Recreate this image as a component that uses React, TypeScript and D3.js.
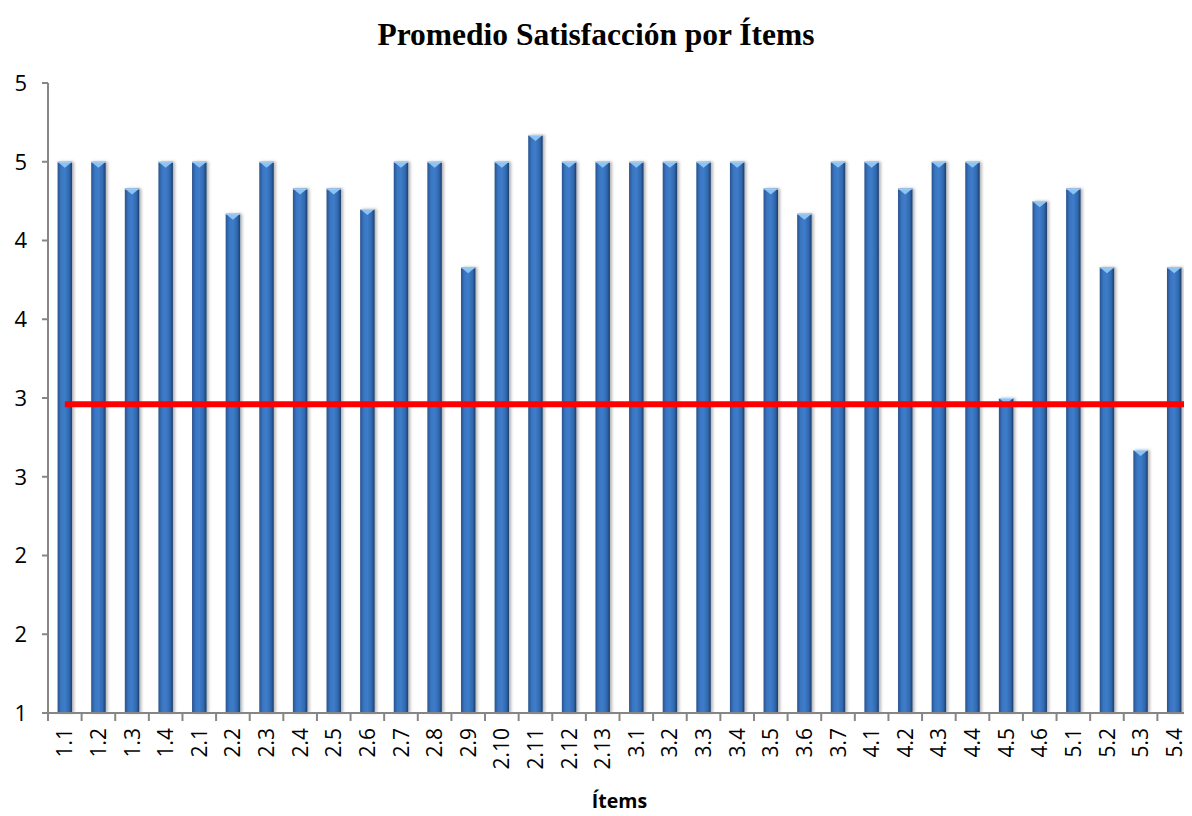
import React, { useEffect, useRef } from 'react';
import * as d3 from 'd3';

const items = [
  '1.1', '1.2', '1.3', '1.4',
  '2.1', '2.2', '2.3', '2.4', '2.5', '2.6', '2.7', '2.8', '2.9', '2.10', '2.11', '2.12', '2.13',
  '3.1', '3.2', '3.3', '3.4', '3.5', '3.6', '3.7',
  '4.1', '4.2', '4.3', '4.4', '4.5', '4.6',
  '5.1', '5.2', '5.3', '5.4',
];
const promedio = [
  4.5, 4.5, 4.33, 4.5,
  4.5, 4.17, 4.5, 4.33, 4.33, 4.2, 4.5, 4.5, 3.83, 4.5, 4.67, 4.5, 4.5,
  4.5, 4.5, 4.5, 4.5, 4.33, 4.17, 4.5,
  4.5, 4.33, 4.5, 4.5, 3.0, 4.25,
  4.33, 3.83, 2.67, 3.83,
];
const referencia = 2.96;
const yTicks = [1, 1.5, 2, 2.5, 3, 3.5, 4, 4.5, 5];

const W = 1192;
const H = 816;

export default function App() {
  const ref = useRef<SVGSVGElement | null>(null);

  useEffect(() => {
    if (!ref.current) return;
    const svg = d3.select(ref.current);
    svg.selectAll('*').remove();

    const margin = { top: 83, right: 1, bottom: 103, left: 48 };
    const left = margin.left;
    const right = W - margin.right;
    const top = margin.top;
    const bottom = H - margin.bottom;

    const x = d3.scaleBand<string>()
      .domain(items)
      .range([left, right])
      .paddingInner(0.57)
      .paddingOuter(0.285);
    const y = d3.scaleLinear().domain([1, 5]).range([bottom, top]);
    const bw = x.bandwidth();
    const step = x.step();

    const defs = svg.append('defs');
    const grad = defs.append('linearGradient')
      .attr('id', 'barGrad')
      .attr('x1', '0').attr('x2', '1').attr('y1', '0').attr('y2', '0');
    grad.append('stop').attr('offset', '0%').attr('stop-color', '#28538f');
    grad.append('stop').attr('offset', '25%').attr('stop-color', '#3a76c2');
    grad.append('stop').attr('offset', '50%').attr('stop-color', '#3e7cc9');
    grad.append('stop').attr('offset', '80%').attr('stop-color', '#3168ae');
    grad.append('stop').attr('offset', '100%').attr('stop-color', '#1c3d6c');

    const shadow = defs.append('filter').attr('id', 'barShadow')
      .attr('x', '-50%').attr('y', '-5%').attr('width', '200%').attr('height', '110%');
    shadow.append('feDropShadow')
      .attr('dx', 2).attr('dy', 0).attr('stdDeviation', 1.6)
      .attr('flood-color', '#000').attr('flood-opacity', 0.3);

    // title
    svg.append('text')
      .attr('x', W / 2)
      .attr('y', 45)
      .attr('text-anchor', 'middle')
      .style('font-family', '"Liberation Serif", "Times New Roman", serif')
      .style('font-weight', 'bold')
      .style('font-size', '31.5px')
      .text('Promedio Satisfacción por Ítems');

    // bars
    const data = items.map((d, i) => ({ item: d, value: promedio[i] }));
    const bars = svg.append('g').selectAll('g').data(data).join('g');

    bars.append('rect')
      .attr('x', d => x(d.item)!)
      .attr('y', d => y(d.value))
      .attr('width', bw)
      .attr('height', d => bottom - y(d.value))
      .attr('fill', 'url(#barGrad)')
      .attr('filter', 'url(#barShadow)');

    // lighter bevel on top of each bar
    bars.append('path')
      .attr('d', d => {
        const x0 = x(d.item)!;
        const t = y(d.value);
        return `M${x0 + 0.5},${t + 0.5}L${x0 + bw - 0.5},${t + 0.5}L${x0 + bw / 2},${t + 6}Z`;
      })
      .attr('fill', '#8cc3f3');
    bars.append('line')
      .attr('x1', d => x(d.item)!)
      .attr('x2', d => x(d.item)! + bw)
      .attr('y1', d => y(d.value) + 0.5)
      .attr('y2', d => y(d.value) + 0.5)
      .attr('stroke', '#a9d2f7')
      .attr('stroke-width', 1);

    // axes
    const axisColor = '#868686';
    const labelFont = '"Open Sans", "Noto Sans", sans-serif';

    const yAxis = svg.append('g');
    yAxis.append('line')
      .attr('x1', left).attr('x2', left)
      .attr('y1', top).attr('y2', bottom)
      .attr('stroke', axisColor).attr('stroke-width', 2);
    yAxis.selectAll('line.tick').data(yTicks).join('line')
      .attr('class', 'tick')
      .attr('x1', left - 6).attr('x2', left)
      .attr('y1', d => y(d)).attr('y2', d => y(d))
      .attr('stroke', axisColor).attr('stroke-width', 2);
    yAxis.selectAll('text').data(yTicks).join('text')
      .attr('x', left - 21)
      .attr('y', d => y(d))
      .attr('dy', '0.36em')
      .attr('text-anchor', 'end')
      .style('font-family', labelFont)
      .style('font-size', '22px')
      .attr('fill', '#000')
      .text(d => d3.format('.0f')(d));

    const xAxis = svg.append('g');
    xAxis.append('line')
      .attr('x1', left).attr('x2', right)
      .attr('y1', bottom).attr('y2', bottom)
      .attr('stroke', axisColor).attr('stroke-width', 2);
    const boundaries = items.map(d => x(d)! - step * x.paddingInner() / 2).concat([right]);
    xAxis.selectAll('line.tick').data(boundaries).join('line')
      .attr('class', 'tick')
      .attr('x1', d => d).attr('x2', d => d)
      .attr('y1', bottom).attr('y2', bottom + 8)
      .attr('stroke', axisColor).attr('stroke-width', 2);
    xAxis.selectAll('text').data(items).join('text')
      .attr('transform', d => `translate(${x(d)! + bw / 2},${bottom + 15}) rotate(-90)`)
      .attr('dy', '0.36em')
      .attr('text-anchor', 'end')
      .style('font-family', labelFont)
      .style('font-size', '21px')
      .attr('fill', '#000')
      .text(d => d);

    svg.append('text')
      .attr('x', (left + right) / 2)
      .attr('y', 808)
      .attr('text-anchor', 'middle')
      .style('font-family', labelFont)
      .style('font-weight', 'bold')
      .style('font-size', '19.5px')
      .attr('fill', '#000')
      .text('Ítems');

    // reference line
    svg.append('line')
      .attr('x1', x(items[0])! + bw / 2)
      .attr('x2', right - 4)
      .attr('y1', y(referencia))
      .attr('y2', y(referencia))
      .attr('stroke', '#ff0000')
      .attr('stroke-width', 6);
  }, []);

  return (
    <div style={{ margin: -8 }}>
      <svg ref={ref} width={W} height={H} style={{ display: 'block', background: '#fff' }} />
    </div>
  );
}
